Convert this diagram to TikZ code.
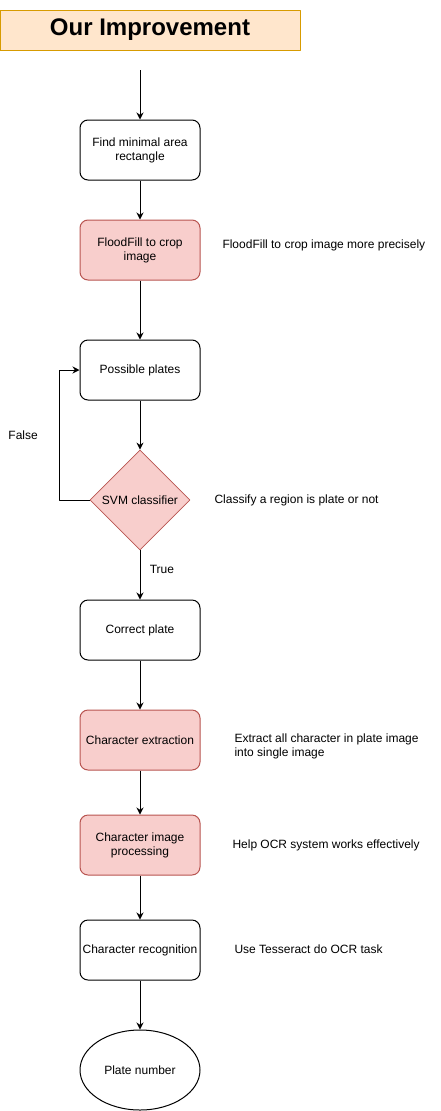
\documentclass[tikz,border=0pt]{standalone}
\usepackage{fontspec}
\setmainfont{Liberation Sans}
\usetikzlibrary{shapes.geometric,arrows.meta}
\definecolor{titlefill}{HTML}{FFE6CC}
\definecolor{titledraw}{HTML}{D79B00}
\definecolor{redfill}{HTML}{F8CECC}
\definecolor{reddraw}{HTML}{B85450}
\begin{document}
\begin{tikzpicture}[x=1pt, y=-1pt, font=\fontsize{12}{14}\selectfont, line join=round, line width=1pt, >={Stealth[length=7pt,width=7pt]},
	proc/.style={draw, rounded corners=8pt, minimum width=120pt, minimum height=60pt, align=center, inner sep=1pt},
	hot/.style={proc, fill=redfill, draw=reddraw},
	note/.style={anchor=west, align=left, inner sep=0pt}]
	\useasboundingbox (0,0) rectangle (441,1111);
	\node[draw=titledraw, fill=titlefill, minimum width=300pt, minimum height=40pt, font=\fontsize{24}{28}\selectfont\bfseries] (title) at (150,30) {Our Improvement};
	\coordinate (start) at (140,70);
	\node[proc] (rect) at (140,150) {Find minimal area\\rectangle};
	\node[hot] (flood) at (140,250) {FloodFill to crop\\image};
	\node[proc] (plates) at (140,370) {Possible plates};
	\node[diamond, draw=reddraw, fill=redfill, minimum width=100pt, minimum height=100pt, inner sep=0pt, line width=.8pt] (svm) at (140,500) {SVM classifier};
	\node[proc] (correct) at (140,630) {Correct plate};
	\node[hot] (extract) at (140,740) {Character extraction};
	\node[hot] (process) at (140,845) {Character image\\processing};
	\node[proc] (recog) at (140,950) {Character recognition};
	\node[ellipse, draw, minimum width=120pt, minimum height=80pt] (number) at (140,1070) {Plate number};
	% arrows
	\draw[->] (start)--(rect);
	\foreach \a/\b in {rect/flood, flood/plates, plates/svm, correct/extract, extract/process, process/recog, recog/number} \draw[->] (\a)--(\b);
	\draw[->] (svm)--(correct) node[pos=.38, right=6pt]{True};
	\draw[->] (svm.west)--++(-30,0) |- (plates.west) node[pos=.25, left=18pt]{False};
	% notes
	\node[note] (n1) at (222,245) {FloodFill to crop image more precisely};
	\node[note] (n2) at (214,500) {Classify a region is plate or not};
	\node[note] (n3) at (234,746) {Extract all character in plate image\\into single image};
	\node[note] (n4) at (232,845) {Help OCR system works effectively};
	\node[note] (n5) at (234,949) {Use Tesseract do OCR task};
\end{tikzpicture}
\end{document}
